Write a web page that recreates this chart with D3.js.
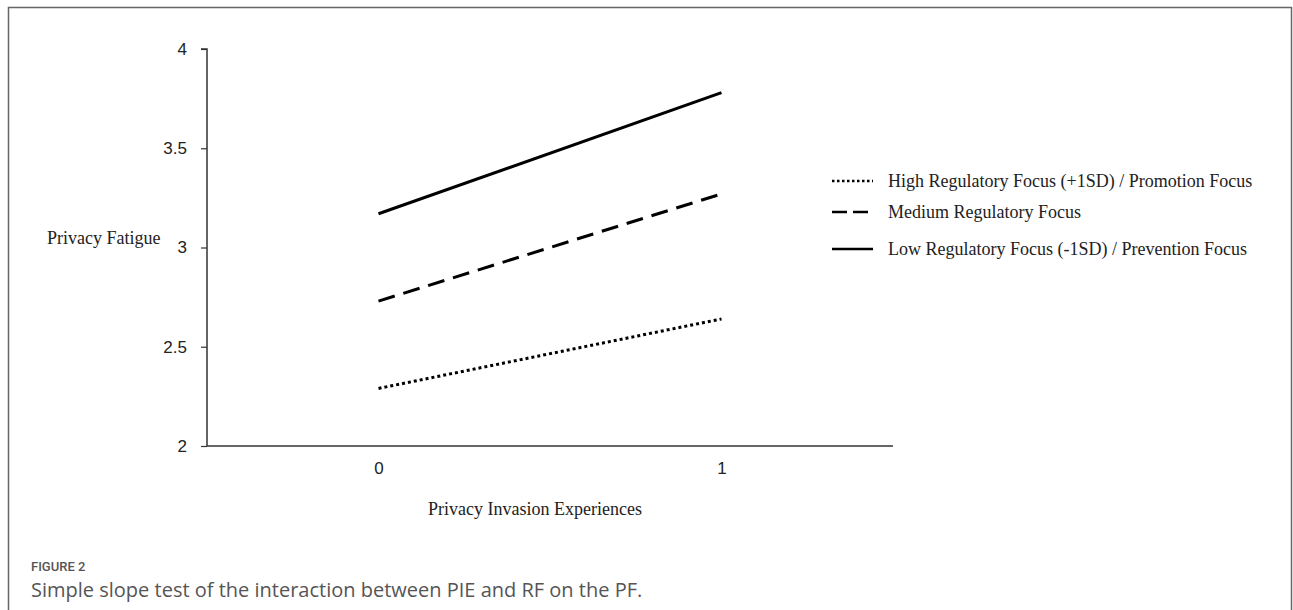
<!DOCTYPE html>
<html>
<head>
<meta charset="utf-8">
<script src="https://cdn.jsdelivr.net/npm/d3@7"></script>
<style>
  html, body { margin: 0; padding: 0; background: #fff; }
  svg { display: block; }
</style>
</head>
<body>
<svg id="chart"></svg>
<script>
// Simple slope plot: PF by PIE at three levels of RF

const xValues = [0, 1];
const xTicks = [0, 1];
const yTicks = [2, 2.5, 3, 3.5, 4];

const seriesNames = [
  'High Regulatory Focus (+1SD) / Promotion Focus',
  'Medium Regulatory Focus',
  'Low Regulatory Focus (-1SD) / Prevention Focus'
];
const highValues = [2.29, 2.64];
const mediumValues = [2.73, 3.27];
const lowValues = [3.17, 3.78];

const seriesValues = [highValues, mediumValues, lowValues];
const seriesDash = ['3,3', '17,9', null];

(function() {
  'use strict';

  const W = 1293, H = 610;
  const svg = d3.select('#chart').attr('width', W).attr('height', H);

  // figure frame
  svg.append('rect')
    .attr('x', 8.5).attr('y', 7.5)
    .attr('width', 1283).attr('height', 620)
    .attr('fill', '#fff')
    .attr('stroke', '#666')
    .attr('stroke-width', 1.5);

  const plot = { left: 207, right: 893, top: 49, bottom: 446 };

  const x = d3.scaleLinear().domain([-0.5, 1.5]).range([plot.left, plot.right]);
  const y = d3.scaleLinear().domain([2, 4]).range([plot.bottom, plot.top]);

  const tickFont = '"Liberation Sans", Arial, Helvetica, sans-serif';
  const serif = '"Liberation Serif", "Times New Roman", serif';
  const capFont = '"Open Sans", "Noto Sans", sans-serif';

  // y axis
  const yAxis = svg.append('g')
    .attr('transform', `translate(${plot.left},0)`)
    .call(d3.axisLeft(y).tickValues(yTicks).tickSize(6).tickPadding(14)
      .tickFormat(d3.format('')));
  yAxis.select('.domain').attr('stroke', '#333').attr('stroke-width', 1.5)
    .attr('d', `M-6,${plot.top}H0V${plot.bottom}`);
  yAxis.selectAll('.tick line').attr('stroke', '#333').attr('stroke-width', 1.2);
  yAxis.selectAll('.tick text')
    .attr('font-family', tickFont).attr('font-size', 17).attr('fill', '#222');

  // x axis
  const xAxis = svg.append('g')
    .attr('transform', `translate(0,${plot.bottom})`)
    .call(d3.axisBottom(x).tickValues(xTicks).tickSize(0).tickPadding(16)
      .tickFormat(d3.format('d')));
  xAxis.select('.domain').attr('stroke', '#333').attr('stroke-width', 1.5)
    .attr('d', `M${plot.left},0H${plot.right}`);
  xAxis.selectAll('.tick text')
    .attr('font-family', tickFont).attr('font-size', 17).attr('fill', '#222');

  // axis titles
  svg.append('text')
    .attr('x', 47).attr('y', 244)
    .attr('font-family', serif).attr('font-size', 18).attr('fill', '#222')
    .text('Privacy Fatigue');

  svg.append('text')
    .attr('x', 535).attr('y', 515)
    .attr('text-anchor', 'middle')
    .attr('font-family', serif).attr('font-size', 18).attr('fill', '#222')
    .text('Privacy Invasion Experiences');

  // slope lines
  const line = d3.line()
    .x((d, i) => x(xValues[i]))
    .y(d => y(d));

  svg.append('g').selectAll('path')
    .data(seriesValues)
    .enter()
    .append('path')
    .attr('d', d => line(d))
    .attr('fill', 'none')
    .attr('stroke', '#000')
    .attr('stroke-width', 3)
    .attr('stroke-dasharray', (d, i) => seriesDash[i]);

  // legend
  const legendRows = [181, 212, 249];
  const legend = svg.append('g');
  seriesNames.forEach((name, i) => {
    legend.append('line')
      .attr('x1', 832).attr('x2', 873)
      .attr('y1', legendRows[i]).attr('y2', legendRows[i])
      .attr('stroke', '#000')
      .attr('stroke-width', 2.5)
      .attr('stroke-dasharray', i === 0 ? '2.5,2.5' : (i === 1 ? '15,6' : null));
    legend.append('text')
      .attr('x', 888).attr('y', legendRows[i] + 6)
      .attr('font-family', serif).attr('font-size', 18).attr('fill', '#222')
      .text(name);
  });

  // caption
  svg.append('text')
    .attr('x', 31).attr('y', 571)
    .attr('font-family', 'Roboto, "Open Sans", sans-serif')
    .attr('font-size', 13).attr('font-weight', 500).attr('fill', '#555')
    .text('FIGURE 2');

  svg.append('text')
    .attr('x', 31).attr('y', 597)
    .attr('font-family', capFont)
    .attr('font-size', 20).attr('fill', '#555')
    .text('Simple slope test of the interaction between PIE and RF on the PF.');
})();
</script>
</body>
</html>
